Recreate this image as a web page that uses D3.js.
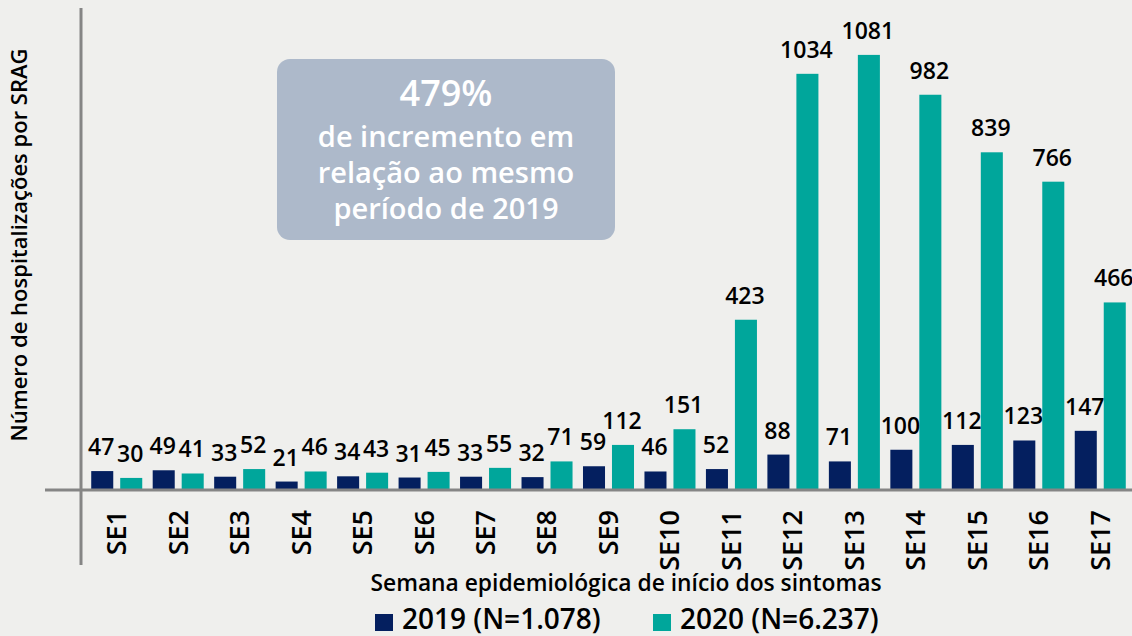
<!DOCTYPE html>
<html>
<head>
<meta charset="utf-8">
<script src="https://cdn.jsdelivr.net/npm/d3@7"></script>
<style>
  html, body { margin: 0; padding: 0; background: #efefed; }
  svg { display: block; font-family: "Open Sans", "Noto Sans", sans-serif; }
</style>
</head>
<body>
<div id="chart"></div>
<script>
var weeks = ["SE1","SE2","SE3","SE4","SE5","SE6","SE7","SE8","SE9","SE10","SE11","SE12","SE13","SE14","SE15","SE16","SE17"];
var years = ["2019", "2020"];
var values2019 = [47, 49, 33, 21, 34, 31, 33, 32, 59, 46, 52, 88, 71, 100, 112, 123, 147];
var values2020 = [30, 41, 52, 46, 43, 45, 55, 71, 112, 151, 423, 1034, 1081, 982, 839, 766, 466];
var legendLabels = ["2019 (N=1.078)", "2020 (N=6.237)"];
var boxLines = ["479%", "de incremento em", "relação ao mesmo", "período de 2019"];
var colors = {"2019": "#041f5f", "2020": "#00a69b"};

var width = 1132, height = 636;

var svg = d3.select("#chart")
  .append("svg")
    .attr("width", width)
    .attr("height", height);

svg.append("rect")
    .attr("width", width)
    .attr("height", height)
    .attr("fill", "#efefed");

var x0 = d3.scaleBand()
    .domain(weeks)
    .range([86, 1131])
    .paddingInner(0.17)
    .paddingOuter(0.085);

var x1 = d3.scaleBand()
    .domain(years)
    .range([0, x0.bandwidth()])
    .paddingInner(0.24);

var y = d3.scaleLinear()
    .domain([0, 1200])
    .range([490, 7]);

var rows = weeks.map(function(w, i) {
  return {week: w, vals: [
    {year: "2019", value: values2019[i]},
    {year: "2020", value: values2020[i]}
  ]};
});

// annotation box
var box = svg.append("g");
box.append("rect")
    .attr("x", 277)
    .attr("y", 59)
    .attr("width", 338)
    .attr("height", 181)
    .attr("rx", 13)
    .attr("fill", "#adb9ca");

box.selectAll("text")
  .data(boxLines)
  .enter()
  .append("text")
    .attr("x", 446)
    .attr("y", function(d, i) { return i == 0 ? 106 : 111 + i * 36; })
    .attr("text-anchor", "middle")
    .attr("fill", "#ffffff")
    .attr("font-weight", 600)
    .attr("font-size", function(d, i) { return i == 0 ? 36 : 29; })
    .text(function(d) { return d; });

// bars
var groups = svg.selectAll(".grp")
  .data(rows)
  .enter()
  .append("g")
    .attr("class", "grp")
    .attr("transform", function(d) { return "translate(" + x0(d.week) + ",0)"; });

groups.selectAll("rect")
  .data(function(d) { return d.vals; })
  .enter()
  .append("rect")
    .attr("x", function(d) { return x1(d.year); })
    .attr("y", function(d) { return y(d.value); })
    .attr("width", x1.bandwidth())
    .attr("height", function(d) { return y(0) - y(d.value); })
    .attr("fill", function(d) { return colors[d.year]; });

groups.selectAll("text")
  .data(function(d) { return d.vals; })
  .enter()
  .append("text")
    .attr("x", function(d) { return x1(d.year) + x1.bandwidth() / 2 - 1; })
    .attr("y", function(d) { return y(d.value) - 16; })
    .attr("text-anchor", "middle")
    .attr("font-size", 23)
    .attr("font-weight", 600)
    .attr("fill", "#000")
    .text(function(d) { return d.value; });

// axis lines
svg.append("line")
    .attr("x1", 45).attr("x2", width)
    .attr("y1", y(0)).attr("y2", y(0))
    .attr("stroke", "#858585")
    .attr("stroke-width", 3);

svg.append("line")
    .attr("x1", 81).attr("x2", 81)
    .attr("y1", y(1200) + 1).attr("y2", 565)
    .attr("stroke", "#858585")
    .attr("stroke-width", 3);

// week labels
var xAxis = svg.append("g")
    .attr("transform", "translate(0," + y(0) + ")")
    .call(d3.axisBottom(x0).tickSize(0));
xAxis.select(".domain").remove();
xAxis.selectAll("text")
    .attr("transform", "translate(0,20)rotate(-90)")
    .attr("x", 0)
    .attr("y", 0)
    .attr("dy", "0.35em")
    .style("text-anchor", "end")
    .attr("font-family", "Open Sans")
    .attr("font-size", 27)
    .attr("font-weight", 600)
    .attr("fill", "#000");

// axis titles
svg.append("text")
    .attr("transform", "translate(27,245)rotate(-90)")
    .attr("text-anchor", "middle")
    .attr("font-size", 22)
    .attr("font-weight", 600)
    .attr("fill", "#000")
    .text("Número de hospitalizações por SRAG");

svg.append("text")
    .attr("x", 626)
    .attr("y", 591)
    .attr("text-anchor", "middle")
    .attr("font-size", 22.8)
    .attr("font-weight", 600)
    .attr("fill", "#000")
    .text("Semana epidemiológica de início dos sintomas");

// legend
var legendX = [375, 653];
var legend = svg.selectAll(".leg")
  .data(years)
  .enter()
  .append("g")
    .attr("class", "leg")
    .attr("transform", function(d, i) { return "translate(" + legendX[i] + ",0)"; });

legend.append("rect")
    .attr("x", 0)
    .attr("y", 614)
    .attr("width", 18)
    .attr("height", 17)
    .attr("fill", function(d) { return colors[d]; });

legend.append("text")
    .attr("x", 27)
    .attr("y", 629)
    .attr("font-size", 28)
    .attr("font-weight", 600)
    .attr("fill", "#000")
    .text(function(d, i) { return legendLabels[i]; });
</script>
</body>
</html>
